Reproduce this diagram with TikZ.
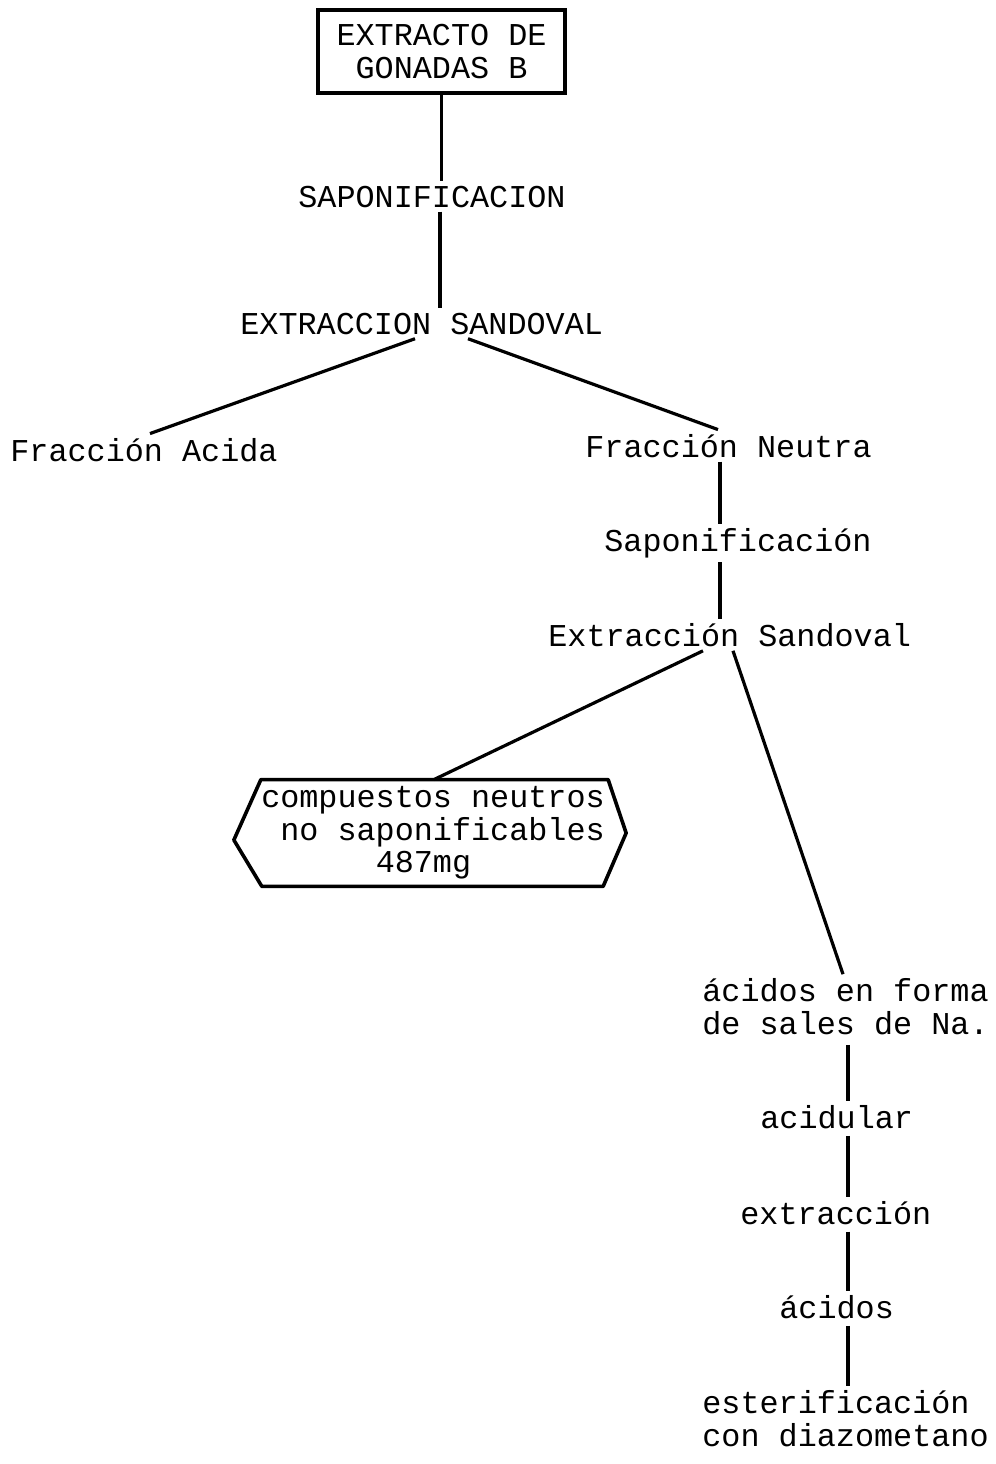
\documentclass[tikz,border=0pt]{standalone}
\usepackage{fontspec}
\setmonofont{Liberation Mono}
\usetikzlibrary{calc}
\begin{document}
\begin{tikzpicture}[x=0.5pt,y=-0.5pt,
  every node/.style={font=\ttfamily\fontsize{15.9}{16.2}\selectfont},
  lbl/.style={inner xsep=0pt,inner ysep=2pt,anchor=base west,align=left},
  link/.style={line width=1.6pt},
  frame/.style={line width=1.8pt}]
\useasboundingbox (0,0) rectangle (996,1464);

% source box
\node[draw,frame,minimum width=123.5pt,minimum height=41.5pt,inner sep=0pt,align=center,
  font=\ttfamily\fontsize{15.9}{16.5}\selectfont] (top) at (441.5,51.5) {EXTRACTO DE\\GONADAS B};

% first treatment
\node[lbl] (sap) at (298,207) {SAPONIFICACION};
\node[lbl] (ext1) at (240,334) {EXTRACCION SANDOVAL};
\node[lbl] (fa) at (10,461) {Fracción Acida};
\node[lbl] (fn) at (585,457) {Fracción Neutra};

% neutral fraction
\node[lbl] (sp2) at (604,551) {Saponificación};
\node[lbl] (ext2) at (548,646) {Extracción Sandoval};
\node[inner sep=0pt,align=left,minimum width=171pt,minimum height=53pt] (hex) at (433,833)
  {compuestos neutros\\\phantom{n}no saponificables\\\phantom{nnnnnn}487mg};
\draw[frame,line join=round] (hex.north west) -- ($(hex.north east)+(3,0)$)
  -- ($(hex.east)+(21,0)$) -- ($(hex.south east)+(-2,0)$)
  -- ($(hex.south west)+(1,0)$) -- ($(hex.west)+(-27,7)$) -- cycle;

% acid branch (multi-line labels are placed by their last baseline)
\node[lbl] (acf) at (702,1034) {ácidos en forma\\de sales de Na.};
\node[lbl] (acid) at (760,1128) {acidular};
\node[lbl] (extr) at (740,1224) {extracción};
\node[lbl] (acs) at (779,1318) {ácidos};
\node[lbl] (est) at (702,1446) {esterificación\\con diazometano};

% connectors
\draw[link] (top.south) -- (top.south |- sap.north);
\coordinate (c1) at ($(sap.south west)+(142,0)$);
\draw[link] (c1) -- (c1 |- ext1.north);
\draw[link] ($(ext1.south west)+(175,0)$) -- ($(fa.north west)+(140,0)$);
\draw[link] ($(ext1.south west)+(228,0)$) -- ($(fn.north west)+(133,0)$);
\coordinate (c2) at ($(fn.south west)+(135,0)$);
\draw[link] (c2) -- (c2 |- sp2.north);
\coordinate (c2b) at ($(sp2.south west)+(116,0)$);
\draw[link] (c2b) -- (c2b |- ext2.north);
\draw[link] ($(ext2.south west)+(155,0)$) -- ($(hex.north west)+(173,0)$);
\draw[link] ($(ext2.south west)+(185,0)$) -- ($(acf.north west)+(141,0)$);
\coordinate (c3) at ($(acf.south west)+(146,6)$);
\draw[link] (c3) -- (c3 |- acid.north);
\coordinate (c4) at ($(acid.south west)+(88,3)$);
\draw[link] (c4) -- (c4 |- extr.north);
\coordinate (c5) at ($(extr.south west)+(108,3)$);
\draw[link] (c5) -- (c5 |- acs.north);
\coordinate (c6) at ($(acs.south west)+(69,3)$);
\draw[link] (c6) -- (c6 |- est.north);
\end{tikzpicture}
\end{document}
